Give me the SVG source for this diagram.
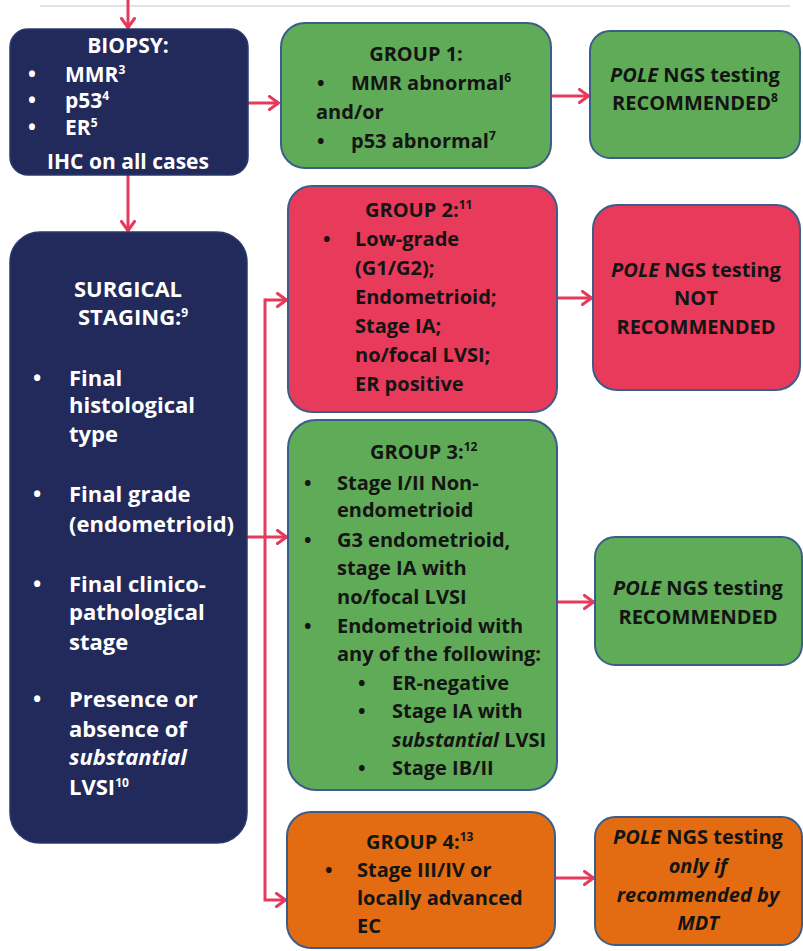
<svg xmlns="http://www.w3.org/2000/svg" width="803" height="951" viewBox="0 0 803 951">
<style>
  .navy { fill: #222a5c; stroke: #2a3a6e; stroke-width: 1.5; }
  .green { fill: #5fab57; stroke: #3a5d8c; stroke-width: 2; }
  .pink { fill: #e83a5a; stroke: #3a5d8c; stroke-width: 2; }
  .orange { fill: #e36c12; stroke: #3a5d8c; stroke-width: 2; }
  text { font-family: "Open Sans", "Liberation Sans", sans-serif; font-weight: bold; font-size: 20px; }
  .w { fill: #ffffff; }
  .b { font-size: 21px; }
  .s { font-size: 22px; }
  .d { fill: #141414; }
  .c { text-anchor: middle; }
  .sup { font-size: 12px; }
  .i { font-style: italic; }
  .conn { fill: none; stroke: #e63a5c; stroke-width: 3; }
</style>
<defs>
  <marker id="ah" viewBox="0 0 12 16" refX="11" refY="8" markerWidth="12" markerHeight="16" markerUnits="userSpaceOnUse" orient="auto">
    <path d="M1.5,1.5 L10.5,8 L1.5,14.5" fill="none" stroke="#e63a5c" stroke-width="3" stroke-linecap="round" stroke-linejoin="round"/>
  </marker>
</defs>
<rect width="803" height="951" fill="#ffffff"/>
<line x1="40" y1="6" x2="790" y2="6" stroke="#e2e2e2" stroke-width="2"/>

<g id="connectors" class="conn">
  <path d="M128,0 V28" marker-end="url(#ah)"/>
  <path d="M248,103 H279" marker-end="url(#ah)"/>
  <path d="M128,175 V231" marker-end="url(#ah)"/>
  <path d="M551,96 H589" marker-end="url(#ah)"/>
  <path d="M557,298 H592" marker-end="url(#ah)"/>
  <path d="M557,602 H594" marker-end="url(#ah)"/>
  <path d="M555,878 H594" marker-end="url(#ah)"/>
  <path d="M247,537 H287" marker-end="url(#ah)"/>
  <path d="M265,300 H287" marker-end="url(#ah)"/>
  <path d="M265,298.5 V900 H286" marker-end="url(#ah)"/>
</g>

<g id="biopsy">
  <rect class="navy" x="10" y="29" width="238" height="146" rx="18"/>
  <text class="w b c" x="128" y="53">BIOPSY:</text>
  <text class="w b" x="28" y="82">•</text>
  <text class="w b" x="65" y="82">MMR<tspan class="sup" dy="-8">3</tspan></text>
  <text class="w b" x="28" y="108">•</text>
  <text class="w b" x="65" y="108">p53<tspan class="sup" dy="-8">4</tspan></text>
  <text class="w b" x="28" y="135">•</text>
  <text class="w b" x="65" y="135">ER<tspan class="sup" dy="-8">5</tspan></text>
  <text class="w b c" x="128" y="169">IHC on all cases</text>
</g>

<g id="surgical">
  <rect class="navy" x="10" y="232" width="237" height="611" rx="30"/>
  <text class="w s c" x="128" y="297">SURGICAL</text>
  <text class="w s" x="78" y="325">STAGING:<tspan class="sup" dy="-8">9</tspan></text>
  <text class="w s" x="33" y="386">•</text>
  <text class="w s" x="69" y="386">Final</text>
  <text class="w s" x="69" y="413">histological</text>
  <text class="w s" x="69" y="442">type</text>
  <text class="w s" x="33" y="502">•</text>
  <text class="w s" x="69" y="502">Final grade</text>
  <text class="w s" x="69" y="532">(endometrioid)</text>
  <text class="w s" x="33" y="592">•</text>
  <text class="w s" x="69" y="592">Final clinico-</text>
  <text class="w s" x="69" y="620">pathological</text>
  <text class="w s" x="69" y="650">stage</text>
  <text class="w s" x="33" y="707">•</text>
  <text class="w s" x="69" y="707">Presence or</text>
  <text class="w s" x="69" y="737">absence of</text>
  <text class="w s i" x="69" y="765">substantial</text>
  <text class="w s" x="69" y="795">LVSI<tspan class="sup" dy="-8">10</tspan></text>
</g>

<g id="group1">
  <rect class="green" x="281" y="23" width="270" height="145" rx="24"/>
  <text class="d c" x="416" y="61">GROUP 1:</text>
  <text class="d" x="317" y="90">•</text>
  <text class="d" x="351" y="90">MMR abnormal<tspan class="sup" dy="-8">6</tspan></text>
  <text class="d" x="316" y="119">and/or</text>
  <text class="d" x="317" y="148">•</text>
  <text class="d" x="351" y="148">p53 abnormal<tspan class="sup" dy="-8">7</tspan></text>
</g>

<g id="pole1">
  <rect class="green" x="590" y="31" width="210" height="127" rx="20"/>
  <text class="d c" x="695" y="82"><tspan class="i">POLE</tspan> NGS testing</text>
  <text class="d c" x="695" y="110">RECOMMENDED<tspan class="sup" dy="-8">8</tspan></text>
</g>

<g id="group2">
  <rect class="pink" x="288" y="186" width="269" height="226" rx="24"/>
  <text class="d" x="365" y="217">GROUP 2:<tspan class="sup" dy="-8">11</tspan></text>
  <text class="d" x="323" y="246">•</text>
  <text class="d" x="355" y="246">Low-grade</text>
  <text class="d" x="355" y="275">(G1/G2);</text>
  <text class="d" x="355" y="304">Endometrioid;</text>
  <text class="d" x="355" y="333">Stage IA;</text>
  <text class="d" x="355" y="362">no/focal LVSI;</text>
  <text class="d" x="355" y="391">ER positive</text>
</g>

<g id="pole2">
  <rect class="pink" x="593" y="205" width="207" height="185" rx="24"/>
  <text class="d c" x="696" y="277"><tspan class="i">POLE</tspan> NGS testing</text>
  <text class="d c" x="696" y="305">NOT</text>
  <text class="d c" x="696" y="334">RECOMMENDED</text>
</g>

<g id="group3">
  <rect class="green" x="288" y="420" width="269" height="370" rx="28"/>
  <text class="d" x="370" y="459">GROUP 3:<tspan class="sup" dy="-8">12</tspan></text>
  <text class="d" x="304" y="490">•</text>
  <text class="d" x="337" y="490">Stage I/II Non-</text>
  <text class="d" x="337" y="517">endometrioid</text>
  <text class="d" x="304" y="547">•</text>
  <text class="d" x="337" y="547">G3 endometrioid,</text>
  <text class="d" x="337" y="575">stage IA with</text>
  <text class="d" x="337" y="604">no/focal LVSI</text>
  <text class="d" x="304" y="633">•</text>
  <text class="d" x="337" y="633">Endometrioid with</text>
  <text class="d" x="337" y="661">any of the following:</text>
  <text class="d" x="358" y="690">•</text>
  <text class="d" x="392" y="690">ER-negative</text>
  <text class="d" x="358" y="718">•</text>
  <text class="d" x="392" y="718">Stage IA with</text>
  <text class="d" x="392" y="747"><tspan class="i">substantial</tspan> LVSI</text>
  <text class="d" x="358" y="775">•</text>
  <text class="d" x="392" y="775">Stage IB/II</text>
</g>

<g id="pole3">
  <rect class="green" x="595" y="537" width="207" height="128" rx="20"/>
  <text class="d c" x="698" y="595"><tspan class="i">POLE</tspan> NGS testing</text>
  <text class="d c" x="698" y="624">RECOMMENDED</text>
</g>

<g id="group4">
  <rect class="orange" x="287" y="812" width="268" height="136" rx="24"/>
  <text class="d" x="366" y="849">GROUP 4:<tspan class="sup" dy="-8">13</tspan></text>
  <text class="d" x="325" y="877">•</text>
  <text class="d" x="357" y="877">Stage III/IV or</text>
  <text class="d" x="357" y="905">locally advanced</text>
  <text class="d" x="357" y="933">EC</text>
</g>

<g id="pole4">
  <rect class="orange" x="595" y="817" width="207" height="128" rx="20"/>
  <text class="d c" x="698" y="844"><tspan class="i">POLE</tspan> NGS testing</text>
  <text class="d c i" x="698" y="873">only if</text>
  <text class="d c i" x="698" y="902">recommended by</text>
  <text class="d c i" x="698" y="930">MDT</text>
</g>
</svg>
